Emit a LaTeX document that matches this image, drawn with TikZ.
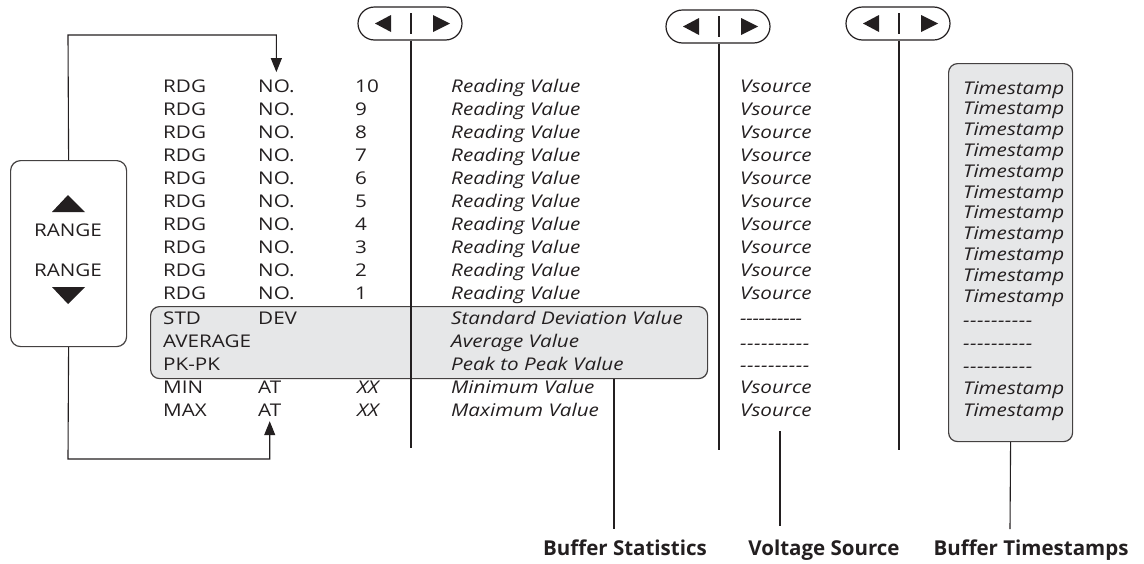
\documentclass[tikz,border=0pt]{standalone}
\usepackage{fontspec}
\setmainfont{Open Sans}[FakeStretch=1.18]
\newfontfamily\lblfont{Open Sans}
\usetikzlibrary{arrows.meta,shapes.misc}
\definecolor{ink}{HTML}{231F20}
\definecolor{boxgray}{HTML}{E6E7E8}
\newcommand\dashesA{-\kern-0.3pt-\kern-0.3pt-\kern-0.3pt-\kern-0.3pt-\kern-0.3pt-\kern-0.3pt-\kern-0.3pt-\kern-0.3pt-\kern-0.3pt-}
\newcommand\dashesB{-\kern0.5pt-\kern0.5pt-\kern0.5pt-\kern0.5pt-\kern0.5pt-\kern0.5pt-\kern0.5pt-\kern0.5pt-\kern0.5pt-}
\begin{document}
\begin{tikzpicture}[x=1pt,y=-1pt,
  txt/.style={anchor=base west, inner sep=0pt, text=ink, font=\fontsize{17.5}{19}\selectfont},
  itxt/.style={txt, font=\fontsize{17.5}{19}\selectfont\itshape},
  btxt/.style={anchor=base, inner sep=0pt, text=ink, font=\lblfont\fontsize{20.5}{22}\selectfont\bfseries},
  ln/.style={draw=ink, line width=1.1pt},
  arr/.style={ln, -{Triangle[length=14pt,width=11pt]}},
  pill/.style={draw=ink, line width=1.2pt, rounded rectangle, minimum width=104pt, minimum height=33pt, inner sep=0pt},
  graybox/.style={draw=ink!85, line width=1.2pt, fill=boxgray, rounded corners=9pt, anchor=north west, inner sep=0pt},
  whitebox/.style={draw=ink!85, line width=1.2pt, fill=white, rounded corners=10pt, anchor=north west, inner sep=0pt},
  tri/.style={fill=ink}
]
\useasboundingbox (0,0) rectangle (1144,563);

% boxes
\node[whitebox, minimum width=116pt, minimum height=186pt] (rangebox) at (10,160) {};
\node[graybox, minimum width=557pt, minimum height=72pt] (stats) at (150,306) {};
\node[graybox, minimum width=124pt, minimum height=378pt] (tsbox) at (948,63) {};

% range box content
\fill[tri] (68,195) -- (85,212) -- (52,212) -- cycle;
\node[anchor=center, inner sep=0pt, text=ink, font=\fontsize{17.5}{19}\selectfont] (rangeup) at (68,230) {RANGE};
\node[anchor=center, inner sep=0pt, text=ink, font=\fontsize{17.5}{19}\selectfont] (rangedn) at (68,270) {RANGE};
\fill[tri] (52,287) -- (85,287) -- (68,304) -- cycle;

% reading rows
\foreach \n [count=\i from 0] in {10,9,8,7,6,5,4,3,2,1} {
  \node[txt] (rdg\n) at (163,{92+23.1*\i}) {RDG};
  \node[txt] (no\n) at (258,{92+23.1*\i}) {NO.};
  \node[txt] (num\n) at (355,{92+23.1*\i}) {\n};
  \node[itxt] (rv\n) at (451,{92+23.1*\i}) {Reading Value};
  \node[itxt] (vs\n) at (740,{92+23.1*\i}) {Vsource};
}
\node[txt] (std) at (163,324) {STD};
\node[txt] (dev) at (258,324) {DEV};
\node[itxt] (sdv) at (451,324) {Standard Deviation Value};
\node[txt] (avg) at (163,347) {AVERAGE};
\node[itxt] (avv) at (451,347) {Average Value};
\node[txt] (pkpk) at (163,370) {PK-PK};
\node[itxt] (pkv) at (451,370) {Peak to Peak Value};
\node[txt] (min) at (163,393) {MIN};
\node[txt] (atmin) at (258,393) {AT};
\node[itxt] (xxmin) at (357,393) {XX};
\node[itxt] (minv) at (451,393) {Minimum Value};
\node[txt] (max) at (163,416) {MAX};
\node[txt] (atmax) at (258,416) {AT};
\node[itxt] (xxmax) at (357,416) {XX};
\node[itxt] (maxv) at (451,416) {Maximum Value};

\node[itxt] (vsd1) at (740,324.5) {\dashesA};
\node[itxt] (vsd2) at (740,349.5) {\dashesB};
\node[itxt] (vsd3) at (740,371.5) {\dashesB};
\node[itxt] (vsmin) at (740,393) {Vsource};
\node[itxt] (vsmax) at (740,416) {Vsource};

% timestamps
\foreach \i in {0,...,10} {
  \node[itxt] (ts\i) at (963,{94+20.8*\i}) {Timestamp};
}
\node[itxt] (tsd1) at (963,326) {\dashesB};
\node[itxt] (tsd2) at (963,349) {\dashesB};
\node[itxt] (tsd3) at (963,372) {\dashesB};
\node[itxt] (tsmin) at (963,394) {Timestamp};
\node[itxt] (tsmax) at (963,416) {Timestamp};

% buttons
\foreach \k/\x/\y in {1/410/23.5, 2/718/26.5, 3/898/23.5} {
  \node[pill] (btn\k) at (\x,\y) {};
  \fill[tri] ([xshift=-35pt]btn\k.center) -- ++(16,-8.5) -- ++(0,17) -- cycle;
  \fill[tri] ([xshift=40pt]btn\k.center) -- ++(-17,-8.5) -- ++(0,17) -- cycle;
  \draw[ln] ([shift={(1pt,10.5pt)}]btn\k.center) -- ([shift={(1pt,-10.5pt)}]btn\k.center);
}
\coordinate (b1end) at (411,448);
\coordinate (b2end) at (719,450);
\coordinate (b3end) at (899,450);
\draw[ln] (btn1.south -| b1end) -- (b1end);
\draw[ln] (btn2.south -| b2end) -- (b2end);
\draw[ln] (btn3.south -| b3end) -- (b3end);

% range connectors
\coordinate (topc) at (68,35);
\draw[arr] (rangebox.north) -- (topc) -| ([yshift=7pt]no10.north);
\coordinate (botc) at (68,459);
\draw[arr] (rangebox.south) -- (botc) -| ([yshift=-5pt]atmax.south);

% bottom labels
\node[btxt] (bslab) at (625,555) {Buffer Statistics};
\node[btxt] (vslab) at (824,555) {Voltage Source};
\node[btxt] (btlab) at (1031,555) {Buffer Timestamps};
\coordinate (bsl) at (614,529);
\draw[ln] (bsl |- stats.south) -- (bsl);
\coordinate (vstop) at (780,431);
\coordinate (vsbot) at (780,526);
\draw[ln] (vstop) -- (vsbot);
\coordinate (btl) at (1010,529);
\draw[ln] (tsbox.south) -- (btl);
\end{tikzpicture}
\end{document}
